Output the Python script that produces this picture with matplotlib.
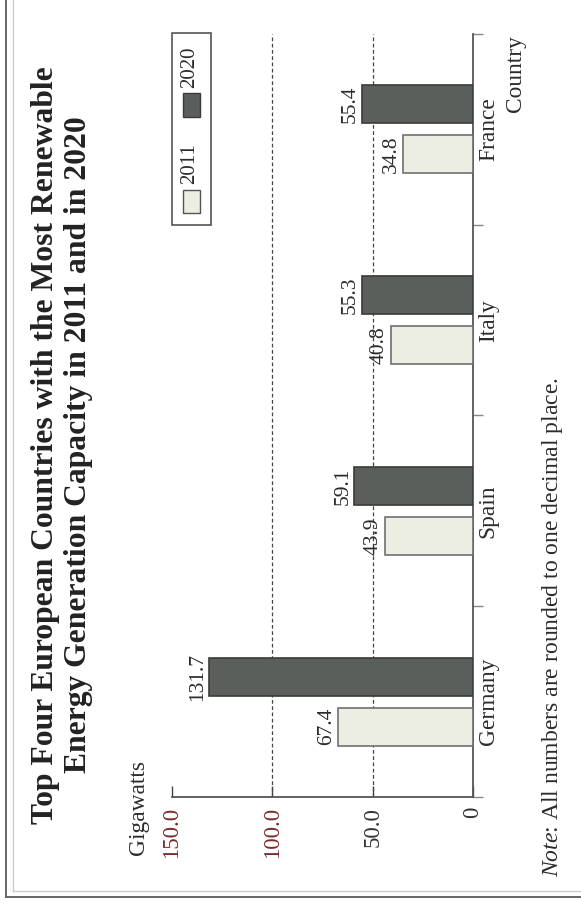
import numpy as np
import matplotlib
matplotlib.use("Agg")
import matplotlib.pyplot as plt
from matplotlib.patches import Rectangle
from matplotlib.lines import Line2D

plt.rcParams['font.family'] = ['Liberation Serif', 'DejaVu Serif']
plt.rcParams['mathtext.fontset'] = 'custom'
plt.rcParams['mathtext.rm'] = 'Liberation Serif'
plt.rcParams['mathtext.it'] = 'Liberation Serif:italic'

# data
countries = ['Germany', 'Spain', 'Italy', 'France']
gw_2011 = [67.4, 43.9, 40.8, 34.8]
gw_2020 = [131.7, 59.1, 55.3, 55.4]
value_ticks = [0, 50, 100, 150]
value_labels = ['0', '50.0', '100.0', '150.0']

W, H = 581, 905
txt = '#2b2b2b'
light = '#eceee4'
dark = '#5b5f5c'


def fx(x):
    return x / W


def fy(y):
    return 1 - y / H


fig = plt.figure(figsize=(W / 100, H / 100), dpi=100)
# the whole page is printed sideways, so the chart is drawn rotated
ax = fig.add_axes([fx(172), fy(797), fx(473) - fx(172), fy(34) - fy(797)])

pos = np.arange(len(countries))
off = 0.131
ax.barh(pos - off, gw_2011, height=0.2, color=light, edgecolor='#707070', lw=1.2, zorder=3)
ax.barh(pos + off, gw_2020, height=0.2, color=dark, edgecolor='#3a3a3a', lw=1.2, zorder=3)

for p, v in zip(pos, gw_2011):
    ax.text(v + 1.0, p - off, f'{v:.1f}', rotation=90, ha='right', va='center',
            fontsize=15.5, color=txt)
for p, v in zip(pos, gw_2020):
    ax.text(v + 1.0, p + off, f'{v:.1f}', rotation=90, ha='right', va='center',
            fontsize=15.5, color=txt)

for g in [50, 100]:
    ax.axvline(g, ls=(0, (3, 2)), color='#444444', lw=0.9, zorder=1)

ax.set_xlim(150, 0)
ax.set_ylim(-0.5, len(countries) - 0.5)

for s in ['left', 'top']:
    ax.spines[s].set_visible(False)
for s in ['right', 'bottom']:
    ax.spines[s].set_color('#555555')
    ax.spines[s].set_linewidth(1.3)

ax.set_xticks(value_ticks)
ax.set_xticklabels(value_labels, rotation=90, fontsize=16.5)
ax.tick_params(axis='x', direction='in', length=8, width=1, color='#444444', pad=7)
for lab, c in zip(ax.get_xticklabels(), ['#333333', '#333333', '#7a2a2a', '#7a2a2a']):
    lab.set_color(c)

ax.yaxis.tick_right()
ax.set_yticks(pos)
ax.set_yticklabels(countries, rotation=90, va='center', fontsize=16.8, color=txt)
ax.set_yticks(np.arange(-0.5, len(countries)), minor=True)
ax.tick_params(axis='y', which='major', length=0, pad=3.5)
ax.tick_params(axis='y', which='minor', length=7, direction='out', color='#888888', width=1)

# axis titles
fig.text(fx(128), fy(855), 'Gigawatts', rotation=90, ha='left', va='bottom',
         fontsize=16.8, color=txt)
fig.text(fx(505), fy(35), 'Country', rotation=90, ha='left', va='top',
         fontsize=16.8, color=txt)

# title
fig.text(fx(31), fy(445),
         'Top Four European Countries with the Most Renewable\nEnergy Generation Capacity in 2011 and in 2020',
         rotation=90, ha='left', va='center', multialignment='center',
         fontsize=22.8, fontweight='bold', color='#222222', linespacing=1.2)

# note
fig.text(fx(540), fy(877), r'$\it{Note}$: All numbers are rounded to one decimal place.',
         rotation=90, ha='left', va='bottom', fontsize=17, color=txt)

# legend box, drawn sideways
fig.patches.append(Rectangle((fx(172), fy(225)), fx(211) - fx(172), fy(33) - fy(225),
                             transform=fig.transFigure, fill=False, edgecolor='#555555', lw=1.2))
fig.patches.append(Rectangle((fx(183), fy(213)), fx(200) - fx(183), fy(190) - fy(213),
                             transform=fig.transFigure, facecolor=light, edgecolor='#555555', lw=1))
fig.patches.append(Rectangle((fx(183), fy(117)), fx(200) - fx(183), fy(93) - fy(117),
                             transform=fig.transFigure, facecolor=dark, edgecolor='#3a3a3a', lw=1))
fig.text(fx(180), fy(184), '2011', rotation=90, ha='left', va='bottom', fontsize=15, color=txt)
fig.text(fx(180), fy(88), '2020', rotation=90, ha='left', va='bottom', fontsize=15, color=txt)

# page frame
fig.lines.append(Line2D([fx(6), fx(6)], [fy(0), fy(897)], transform=fig.transFigure, color='#666666', lw=1.4))
fig.lines.append(Line2D([fx(13), fx(13)], [fy(0), fy(891)], transform=fig.transFigure, color='#cccccc', lw=1))
fig.lines.append(Line2D([fx(6), fx(581)], [fy(897), fy(897)], transform=fig.transFigure, color='#666666', lw=1.4))
fig.lines.append(Line2D([fx(13), fx(581)], [fy(891), fy(891)], transform=fig.transFigure, color='#cccccc', lw=1))

fig.savefig('out.png', dpi=100)
